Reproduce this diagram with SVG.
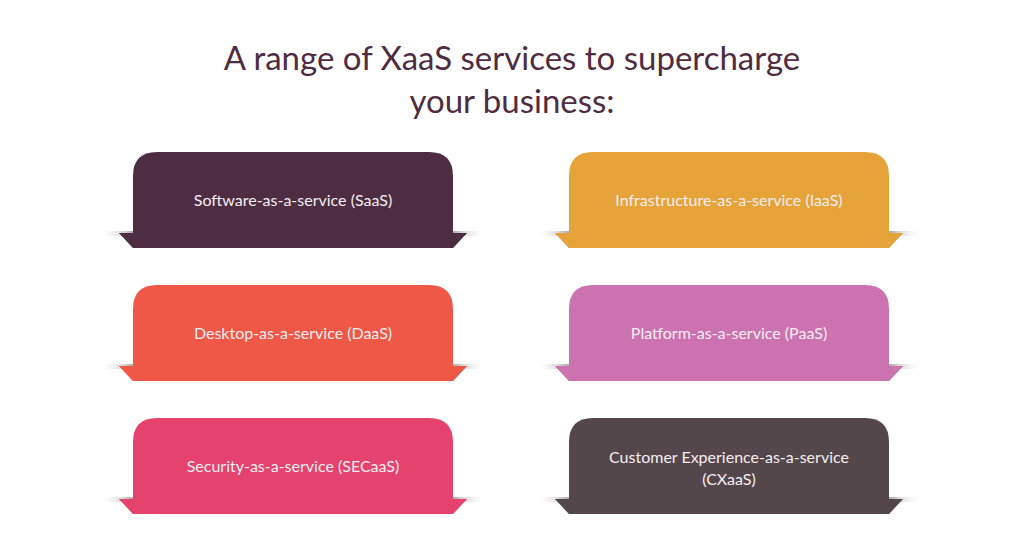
<svg xmlns="http://www.w3.org/2000/svg" width="1024" height="554" viewBox="0 0 1024 554">
<defs>
<style>
.t{font-family:"Lato","Liberation Sans",sans-serif;font-size:16px;fill:#f4eef2;text-anchor:middle}
.h{font-family:"Lato","Liberation Sans",sans-serif;font-size:33px;fill:#4e2d42;text-anchor:middle}
</style>
<linearGradient id="sl" x1="0" x2="1"><stop offset="0" stop-color="#fff" stop-opacity="0"/><stop offset="1" stop-color="#999"/></linearGradient>
<linearGradient id="sr" x1="1" x2="0"><stop offset="0" stop-color="#fff" stop-opacity="0"/><stop offset="1" stop-color="#999"/></linearGradient>
<g id="card">
<rect x="-33" y="79" width="36" height="5" fill="url(#sl)"/>
<rect x="317" y="79" width="36" height="5" fill="url(#sr)"/>
<path d="M-14,81 L0,81 L0,96 Z" fill="#000" fill-opacity="0.35"/>
<path d="M334,81 L320,81 L320,96 Z" fill="#000" fill-opacity="0.35"/>
<path d="M0,96 L0,24 Q0,0 24,0 L296,0 Q320,0 320,24 L320,96 Z"/>
</g>
</defs>
<text class="h" x="512" y="70">A range of XaaS services to supercharge</text>
<text class="h" x="512" y="113">your business:</text>
<g id="n1"><use href="#card" x="133" y="152" fill="#4e2d42"/><path d="M119,233 L133,233 L133,248 Z" fill="#4e2d42"/><path d="M467,233 L453,233 L453,248 Z" fill="#4e2d42"/><text class="t" x="293" y="206">Software-as-a-service (SaaS)</text></g>
<g id="n2"><use href="#card" x="569" y="152" fill="#e6a33a"/><path d="M555,233 L569,233 L569,248 Z" fill="#e6a33a"/><path d="M903,233 L889,233 L889,248 Z" fill="#e6a33a"/><text class="t" x="729" y="206">Infrastructure-as-a-service (IaaS)</text></g>
<g id="n3"><use href="#card" x="133" y="285" fill="#ef5746"/><path d="M119,366 L133,366 L133,381 Z" fill="#ef5746"/><path d="M467,366 L453,366 L453,381 Z" fill="#ef5746"/><text class="t" x="293" y="339">Desktop-as-a-service (DaaS)</text></g>
<g id="n4"><use href="#card" x="569" y="285" fill="#cd72b0"/><path d="M555,366 L569,366 L569,381 Z" fill="#cd72b0"/><path d="M903,366 L889,366 L889,381 Z" fill="#cd72b0"/><text class="t" x="729" y="339">Platform-as-a-service (PaaS)</text></g>
<g id="n5"><use href="#card" x="133" y="418" fill="#e5436e"/><path d="M119,499 L133,499 L133,514 Z" fill="#e5436e"/><path d="M467,499 L453,499 L453,514 Z" fill="#e5436e"/><text class="t" x="293" y="472">Security-as-a-service (SECaaS)</text></g>
<g id="n6"><use href="#card" x="569" y="418" fill="#54474c"/><path d="M555,499 L569,499 L569,514 Z" fill="#54474c"/><path d="M903,499 L889,499 L889,514 Z" fill="#54474c"/><text class="t" x="729" y="463">Customer Experience-as-a-service</text><text class="t" x="729" y="485">(CXaaS)</text></g>
<g id="connectors"/>
</svg>
